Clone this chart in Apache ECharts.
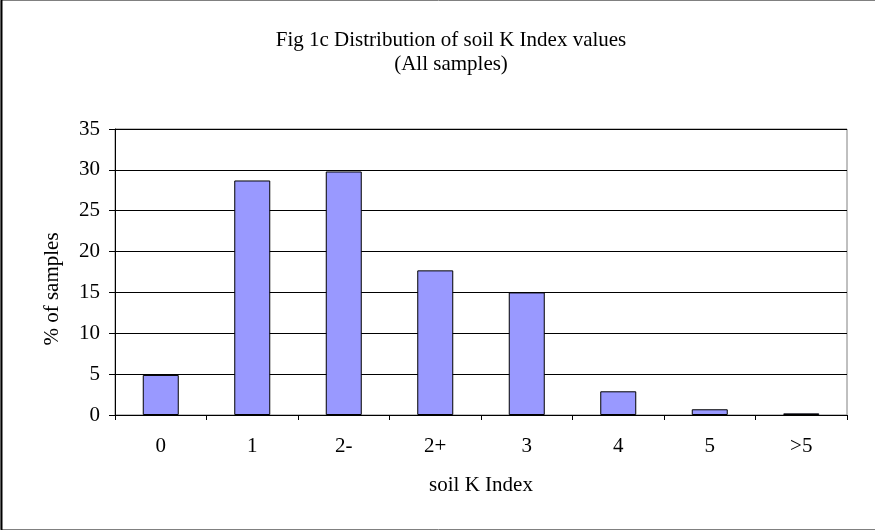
<!DOCTYPE html>
<html><head><meta charset="utf-8">
<script src="https://cdn.jsdelivr.net/npm/echarts@6/dist/echarts.min.js"></script>
<style>html,body{margin:0;padding:0;background:#fff}#c{width:875px;height:531px}</style>
</head><body><div id="c"></div>
<script>
const categories = ['0','1','2-','2+','3','4','5','>5'];
const percentSamples = [4.9, 28.7, 29.8, 17.7, 15.0, 2.9, 0.7, 0.2];
const yTicks = {min: 0, max: 35, interval: 5};
const titleText = 'Fig 1c Distribution of soil K Index values\n(All samples)';
const xName = 'soil K Index';
const yName = '% of samples';

const font = 'Liberation Serif';
const fs = 21;
const chart = echarts.init(document.getElementById('c'), null, {renderer: 'canvas'});
chart.setOption({
  animation: false,
  backgroundColor: '#fff',
  title: {
    text: titleText, left: 446, textAlign: 'center', top: 23,
    textStyle: {fontFamily: font, fontSize: fs, fontWeight: 'normal', color: '#000', lineHeight: 24}
  },
  graphic: [
    {type: 'rect', shape: {x: 1, y: 0.5, width: 900, height: 529}, style: {fill: 'none', stroke: '#808080', lineWidth: 1}, z: 100},
    {type: 'line', shape: {x1: 1.5, y1: 0, x2: 1.5, y2: 530}, style: {stroke: '#000', lineWidth: 2}, z: 101}
  ],
  grid: {left: 115, right: 28, top: 129, bottom: 116, show: true, borderColor: '#808080', borderWidth: 1},
  xAxis: {
    type: 'category', data: categories,
    name: xName, nameLocation: 'middle', nameGap: 60,
    nameTextStyle: {fontFamily: font, fontSize: fs, color: '#000'},
    axisLine: {lineStyle: {color: '#000', width: 1}},
    axisTick: {show: true, length: 5, lineStyle: {color: '#000'}},
    axisLabel: {fontFamily: font, fontSize: fs, color: '#000', margin: 21}
  },
  yAxis: {
    type: 'value', min: yTicks.min, max: yTicks.max, interval: yTicks.interval,
    name: yName, nameLocation: 'middle', nameGap: 52,
    nameTextStyle: {fontFamily: font, fontSize: fs, color: '#000', padding: [0, 34, 0, 0]},
    axisLine: {show: true, lineStyle: {color: '#000', width: 1}},
    axisTick: {show: true, length: 6, lineStyle: {color: '#000'}},
    axisLabel: {fontFamily: font, fontSize: fs, color: '#000', margin: 15},
    splitLine: {show: true, lineStyle: {color: '#000', width: 1}}
  },
  series: [{
    type: 'bar', data: percentSamples, barWidth: 36,
    itemStyle: {color: '#9999FF', borderColor: '#000', borderWidth: 1}
  }]
});
</script></body></html>
